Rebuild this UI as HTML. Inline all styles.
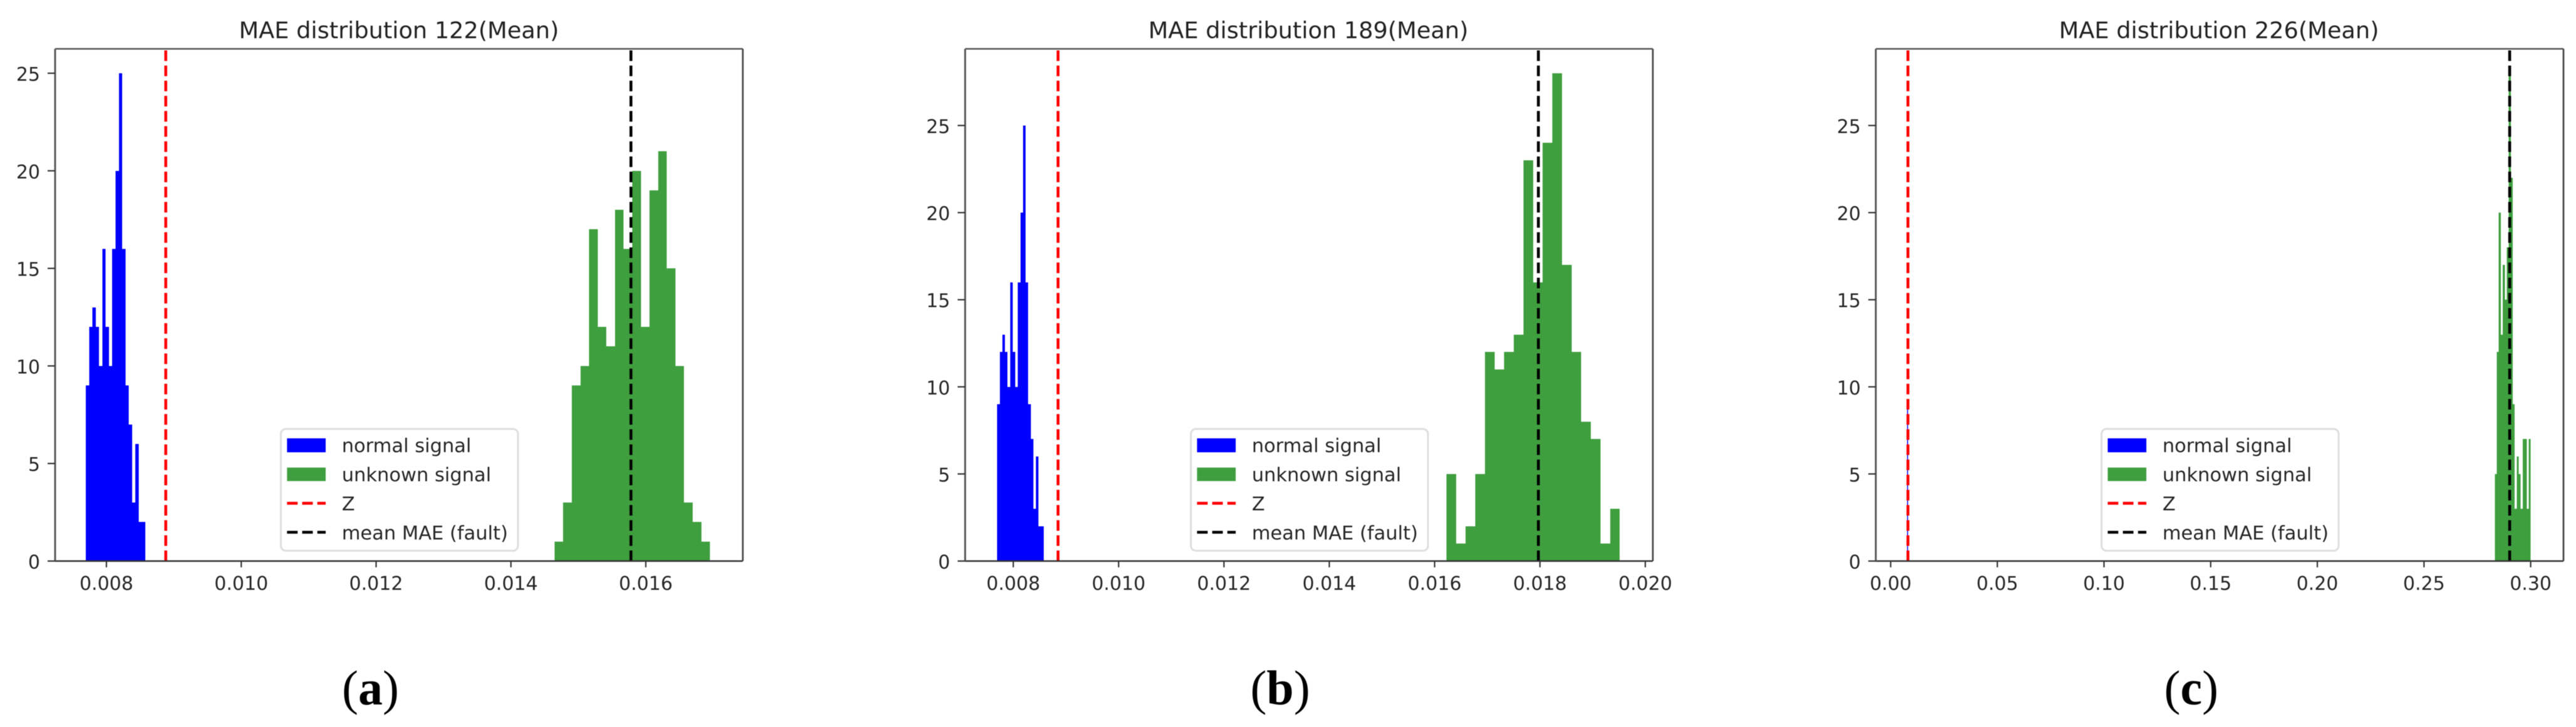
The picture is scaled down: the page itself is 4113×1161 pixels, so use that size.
<!DOCTYPE html>
<html lang="en">
<head>
<meta charset="utf-8">
<title>MAE distribution histograms</title>
<style>
  html, body { margin: 0; padding: 0; background: #fff; }
  body { width: 4113px; height: 1161px; overflow: hidden; }
  svg { display: block; filter: blur(0.6px); }
  .title { font: 36.7px "DejaVu Sans", "Liberation Sans", sans-serif; fill: #222; text-anchor: middle; }
  .tick { font: 30px "DejaVu Sans", "Liberation Sans", sans-serif; fill: #262626; }
  .legend-text { font: 30.5px "DejaVu Sans", "Liberation Sans", sans-serif; fill: #262626; }
  .caption { font: 78px "Liberation Serif", serif; fill: #000; text-anchor: middle; }
  .caption tspan { font-weight: bold; }
</style>
</head>
<body>
<svg xmlns="http://www.w3.org/2000/svg" width="4113" height="1161" viewBox="0 0 4113 1161">
  <rect x="0" y="0" width="4113" height="1161" fill="#fff"/>

  <g transform="translate(88,78)">
    <text class="title" x="549" y="-17">MAE distribution 122(Mean)</text>
    <g id="marks-a"></g>
    <g id="axes-a"></g>
    <g>
      <rect x="360.5" y="607" width="378.5" height="194.5" rx="8" fill="#fff" stroke="#dedede" stroke-width="3"/>
      <rect x="370.3" y="622" width="61.7" height="22.3" fill="#0000ff"/>
      <text class="legend-text" x="457.7" y="644">normal signal</text>
      <rect x="370.3" y="668.7" width="61.7" height="21.6" fill="#3f9f3f"/>
      <text class="legend-text" x="457.7" y="690.3">unknown signal</text>
      <line x1="370.3" x2="432" y1="725.7" y2="725.7" stroke="#ff0000" stroke-width="4.6" stroke-dasharray="16.9 7.3"/>
      <text class="legend-text" x="457.7" y="737">Z</text>
      <line x1="370.3" x2="432" y1="772" y2="772" stroke="#000" stroke-width="4.6" stroke-dasharray="16.9 7.3"/>
      <text class="legend-text" x="457.7" y="783.5">mean MAE (fault)</text>
    </g>
  </g>

  <g transform="translate(1541,78)">
    <text class="title" x="548" y="-17">MAE distribution 189(Mean)</text>
    <g id="marks-b"></g>
    <g id="axes-b"></g>
    <g>
      <rect x="360.5" y="607" width="378.5" height="194.5" rx="8" fill="#fff" stroke="#dedede" stroke-width="3"/>
      <rect x="370.3" y="622" width="61.7" height="22.3" fill="#0000ff"/>
      <text class="legend-text" x="457.7" y="644">normal signal</text>
      <rect x="370.3" y="668.7" width="61.7" height="21.6" fill="#3f9f3f"/>
      <text class="legend-text" x="457.7" y="690.3">unknown signal</text>
      <line x1="370.3" x2="432" y1="725.7" y2="725.7" stroke="#ff0000" stroke-width="4.6" stroke-dasharray="16.9 7.3"/>
      <text class="legend-text" x="457.7" y="737">Z</text>
      <line x1="370.3" x2="432" y1="772" y2="772" stroke="#000" stroke-width="4.6" stroke-dasharray="16.9 7.3"/>
      <text class="legend-text" x="457.7" y="783.5">mean MAE (fault)</text>
    </g>
  </g>

  <g transform="translate(2995,78)">
    <text class="title" x="548" y="-17">MAE distribution 226(Mean)</text>
    <g id="marks-c"></g>
    <g id="axes-c"></g>
    <g>
      <rect x="360.5" y="607" width="378.5" height="194.5" rx="8" fill="#fff" stroke="#dedede" stroke-width="3"/>
      <rect x="370.3" y="622" width="61.7" height="22.3" fill="#0000ff"/>
      <text class="legend-text" x="457.7" y="644">normal signal</text>
      <rect x="370.3" y="668.7" width="61.7" height="21.6" fill="#3f9f3f"/>
      <text class="legend-text" x="457.7" y="690.3">unknown signal</text>
      <line x1="370.3" x2="432" y1="725.7" y2="725.7" stroke="#ff0000" stroke-width="4.6" stroke-dasharray="16.9 7.3"/>
      <text class="legend-text" x="457.7" y="737">Z</text>
      <line x1="370.3" x2="432" y1="772" y2="772" stroke="#000" stroke-width="4.6" stroke-dasharray="16.9 7.3"/>
      <text class="legend-text" x="457.7" y="783.5">mean MAE (fault)</text>
    </g>
  </g>

  <text class="caption" x="591.5" y="1125">(<tspan>a</tspan>)</text>
  <text class="caption" x="2044" y="1125">(<tspan>b</tspan>)</text>
  <text class="caption" x="3498.7" y="1125">(<tspan>c</tspan>)</text>
</svg>

<script>
// ---- Data ----
const yTickValues = [0, 5, 10, 15, 20, 25];
const yTickLabels = ['0', '5', '10', '15', '20', '25'];

const normalCountsA = [9, 12, 13, 12, 10, 16, 12, 10, 16, 20, 25, 16, 9, 7, 3, 6, 2, 2];
const normalRangeA = [0.007694, 0.008577];
const unknownCountsA = [1, 3, 9, 10, 17, 12, 11, 18, 16, 20, 12, 19, 21, 15, 10, 3, 2, 1];
const unknownRangeA = [0.014647, 0.016952];
const xDomainA = [0.007239, 0.017439];
const xTickValuesA = [0.008, 0.010, 0.012, 0.014, 0.016];
const xTickLabelsA = ['0.008', '0.010', '0.012', '0.014', '0.016'];
const yMaxA = 26.25;
const thresholdA = 0.00888;
const meanMaeA = 0.01578;

const normalCountsB = [9, 12, 13, 12, 10, 16, 12, 10, 16, 20, 25, 16, 9, 7, 3, 6, 2, 2];
const normalRangeB = [0.007694, 0.008577];
const unknownCountsB = [5, 1, 2, 5, 12, 11, 12, 13, 23, 16, 24, 28, 17, 12, 8, 7, 1, 3];
const unknownRangeB = [0.016224, 0.019515];
const xDomainB = [0.007086, 0.020143];
const xTickValuesB = [0.008, 0.010, 0.012, 0.014, 0.016, 0.018, 0.020];
const xTickLabelsB = ['0.008', '0.010', '0.012', '0.014', '0.016', '0.018', '0.020'];
const yMaxB = 29.4;
const thresholdB = 0.00885;
const meanMaeB = 0.01797;

const normalCountsC = [9];
const normalRangeC = [0.0077, 0.0081];
const unknownCountsC = [5, 12, 20, 13, 17, 15, 18, 28, 22, 9, 3, 6, 5, 3, 7, 7, 3, 7];
const unknownRangeC = [0.2832, 0.3000];
const xDomainC = [-0.00697, 0.31538];
const xTickValuesC = [0.00, 0.05, 0.10, 0.15, 0.20, 0.25, 0.30];
const xTickLabelsC = ['0.00', '0.05', '0.10', '0.15', '0.20', '0.25', '0.30'];
const yMaxC = 29.4;
const thresholdC = 0.0081;
const meanMaeC = 0.29016;

// ---- Rendering ----
const SVG_NS = 'http://www.w3.org/2000/svg';
const PLOT_W = 1098;
const PLOT_H = 818;

function make(tag, attrs, parent) {
  const el = document.createElementNS(SVG_NS, tag);
  for (const key in attrs) el.setAttribute(key, attrs[key]);
  parent.appendChild(el);
  return el;
}

function drawBars(layer, counts, range, color, x, y, prefix) {
  const step = (range[1] - range[0]) / counts.length;
  counts.forEach(function (count, i) {
    const x0 = x(range[0] + i * step);
    const x1 = x(range[0] + (i + 1) * step);
    const el = make('rect', {
      x: x0, y: y(count), width: x1 - x0, height: y(0) - y(count),
      fill: color, 'shape-rendering': 'crispEdges'
    }, layer);
    
    
  });
}

function drawVLine(layer, value, color, x, name) {
  const el = make('line', {
    x1: x(value), x2: x(value), y1: PLOT_H, y2: 0,
    stroke: color, 'stroke-width': 4.6, 'stroke-dasharray': '16.9 7.3'
  }, layer);
  
  
}

function drawSpine(layer, x1, y1, x2, y2, color, width, name) {
  const el = make('line', { x1: x1, y1: y1, x2: x2, y2: y2, stroke: color, 'stroke-width': width }, layer);
  
  
}

function drawPanel(id, normalCounts, normalRange, unknownCounts, unknownRange, xDomain, xTicks, xLabels, yMax, threshold, meanMae) {
  const marks = document.getElementById('marks-' + id);
  const axes = document.getElementById('axes-' + id);
  const x = function (v) { return (v - xDomain[0]) / (xDomain[1] - xDomain[0]) * PLOT_W; };
  const y = function (v) { return PLOT_H - v / yMax * PLOT_H; };

  drawBars(marks, normalCounts, normalRange, '#0000ff', x, y, 'normal-signal');
  drawBars(marks, unknownCounts, unknownRange, '#3f9f3f', x, y, 'unknown-signal');
  drawVLine(marks, threshold, '#ff0000', x, 'threshold-z-line');
  drawVLine(marks, meanMae, '#000000', x, 'mean-mae-line');

  drawSpine(axes, 0, 0, PLOT_W, 0, '#555', 2.4, 'top-spine');
  drawSpine(axes, 0, PLOT_H, PLOT_W, PLOT_H, '#333', 2.4, 'bottom-spine');
  drawSpine(axes, 0, 0, 0, PLOT_H, '#5a5a5a', 3, 'left-spine');
  drawSpine(axes, PLOT_W, 0, PLOT_W, PLOT_H, '#4a4a4a', 2.8, 'right-spine');

  xTicks.forEach(function (v, i) {
    const tick = make('line', { x1: x(v), x2: x(v), y1: PLOT_H, y2: PLOT_H + 10, stroke: '#333', 'stroke-width': 2.2 }, axes);
    
    
    const label = make('text', { x: x(v), y: PLOT_H + 46, class: 'tick', 'text-anchor': 'middle' }, axes);
    label.textContent = xLabels[i];
    
    
  });

  yTickValues.forEach(function (v, i) {
    const tick = make('line', { x1: -12, x2: 0, y1: y(v), y2: y(v), stroke: '#333', 'stroke-width': 2.2 }, axes);
    
    
    const label = make('text', { x: -24, y: y(v) + 12, class: 'tick', 'text-anchor': 'end' }, axes);
    label.textContent = yTickLabels[i];
    
    
  });
}

drawPanel('a', normalCountsA, normalRangeA, unknownCountsA, unknownRangeA, xDomainA, xTickValuesA, xTickLabelsA, yMaxA, thresholdA, meanMaeA);
drawPanel('b', normalCountsB, normalRangeB, unknownCountsB, unknownRangeB, xDomainB, xTickValuesB, xTickLabelsB, yMaxB, thresholdB, meanMaeB);
drawPanel('c', normalCountsC, normalRangeC, unknownCountsC, unknownRangeC, xDomainC, xTickValuesC, xTickLabelsC, yMaxC, thresholdC, meanMaeC);
</script>
</body>
</html>
